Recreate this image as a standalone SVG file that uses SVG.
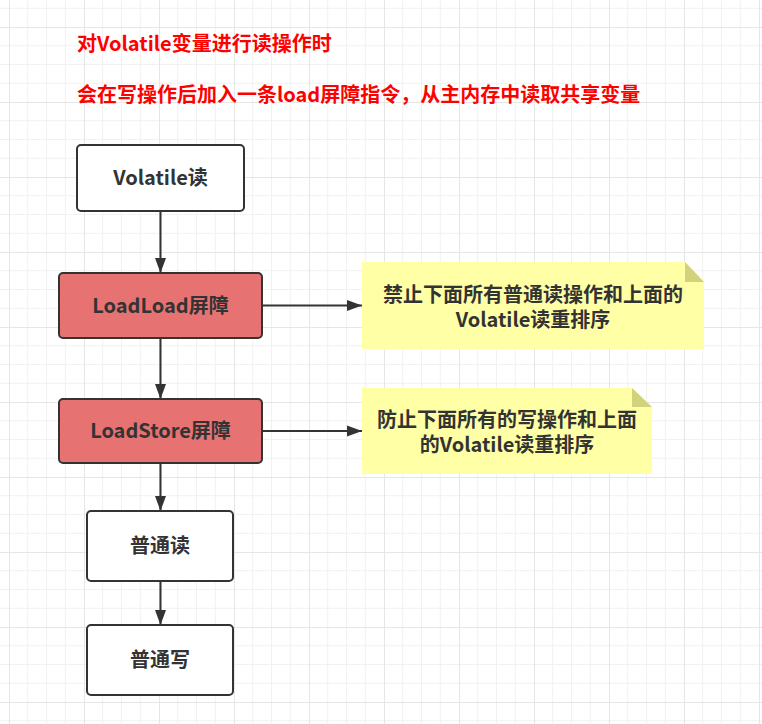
<svg xmlns="http://www.w3.org/2000/svg" width="762" height="724" viewBox="0 0 762 724">
<defs>
<pattern id="grid" patternUnits="userSpaceOnUse" x="9" y="27" width="75" height="75">
<path d="M18.75 0V75M37.5 0V75M56.25 0V75M0 18.75H75M0 37.5H75M0 56.25H75" stroke="#f1f1f1" stroke-width="1" fill="none"/>
<path d="M0.5 0V75M0 0.5H75" stroke="#e6e6e6" stroke-width="1" fill="none"/>
</pattern>
<marker id="arrow" markerUnits="userSpaceOnUse" markerWidth="16" markerHeight="12" refX="15" refY="6" orient="auto">
<path d="M0 0.5L15 6L0 11.5Z" fill="#333333"/>
</marker>
<style>
.box{stroke:#333333;stroke-width:2;}
.white{fill:#ffffff;}
.red{fill:#e67272;}
.lbl{font-family:"Microsoft YaHei","Noto Sans CJK SC",sans-serif;font-weight:bold;font-size:20px;fill:#333333;text-anchor:middle;}
.title{font-family:"Microsoft YaHei","Noto Sans CJK SC",sans-serif;font-weight:bold;font-size:20px;fill:#ff0000;}
.note{fill:#ffffa6;}
.fold{fill:#d2d27a;}
.conn{stroke:#333333;stroke-width:2;fill:none;marker-end:url(#arrow);}
</style>
</defs>
<rect width="762" height="724" fill="#ffffff"/>
<rect width="762" height="724" fill="url(#grid)"/>

<g id="title">
<text class="title" x="77" y="51">对Volatile变量进行读操作时</text>
<text class="title" x="77" y="102">会在写操作后加入一条load屏障指令，从主内存中读取共享变量</text>
</g>

<g id="connectors">
<path class="conn" d="M160.5 212V273"/>
<path class="conn" d="M160.5 338V399"/>
<path class="conn" d="M160.5 463V511"/>
<path class="conn" d="M160.5 581V625"/>
<path class="conn" d="M262 305.5H362"/>
<path class="conn" d="M262 431H362"/>
</g>

<g id="n-volatile-read">
<rect class="box white" x="77" y="145" width="167" height="66" rx="4"/>
<text class="lbl" x="160.5" y="185">Volatile读</text>
</g>
<g id="n-loadload">
<rect class="box red" x="59" y="273" width="203" height="65" rx="4"/>
<text class="lbl" x="160.5" y="313">LoadLoad屏障</text>
</g>
<g id="n-loadstore">
<rect class="box red" x="59" y="399" width="203" height="64" rx="4"/>
<text class="lbl" x="160.5" y="438">LoadStore屏障</text>
</g>
<g id="n-normal-read">
<rect class="box white" x="87" y="511" width="146" height="70" rx="4"/>
<text class="lbl" x="160" y="553">普通读</text>
</g>
<g id="n-normal-write">
<rect class="box white" x="87" y="625" width="146" height="70" rx="4"/>
<text class="lbl" x="160" y="667">普通写</text>
</g>

<g id="note-loadload">
<path class="note" d="M362 262H685L704 282V349H362Z"/>
<path class="fold" d="M685 262V282H704Z"/>
<text class="lbl" x="533" y="302">禁止下面所有普通读操作和上面的</text>
<text class="lbl" x="533" y="327">Volatile读重排序</text>
</g>
<g id="note-loadstore">
<path class="note" d="M362 388H632L652 407V474H362Z"/>
<path class="fold" d="M632 388V407H652Z"/>
<text class="lbl" x="507" y="427">防止下面所有的写操作和上面</text>
<text class="lbl" x="507" y="452">的Volatile读重排序</text>
</g>
</svg>
